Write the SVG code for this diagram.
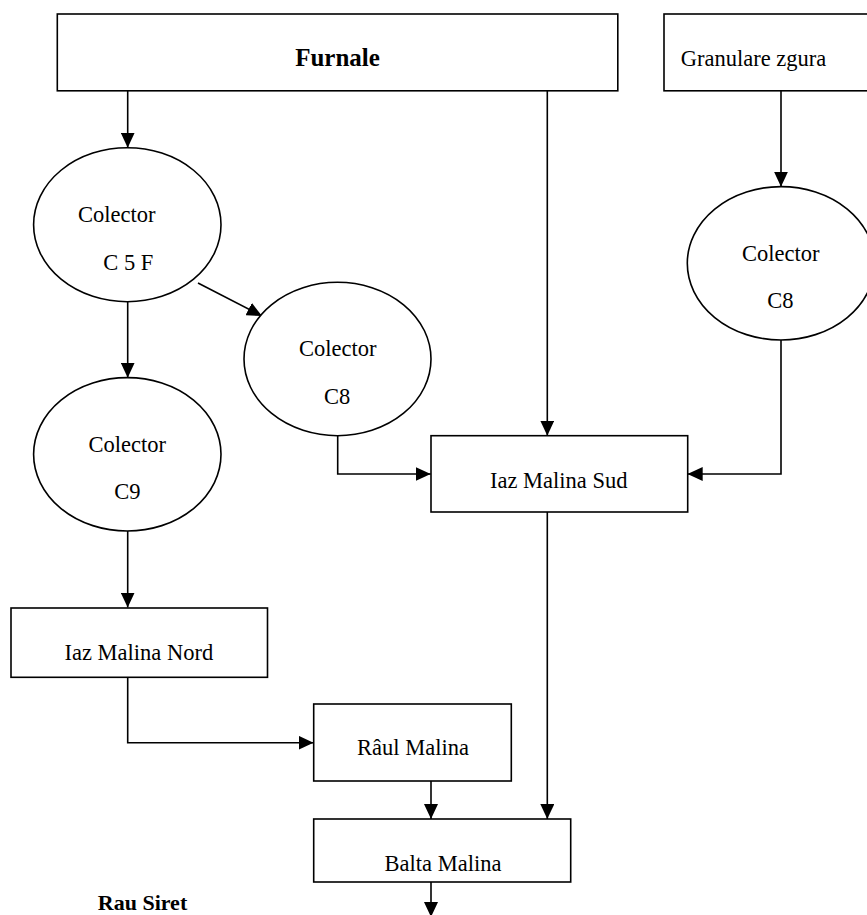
<svg xmlns="http://www.w3.org/2000/svg" width="867" height="915" viewBox="0 0 867 915">
<defs>
<marker id="arr" markerUnits="userSpaceOnUse" markerWidth="15" markerHeight="14" refX="15" refY="7" orient="auto">
<path d="M0,0 L15,7 L0,14 z" fill="#000"/>
</marker>
<style>
.box{fill:#fff;stroke:#000;stroke-width:1.6}
.ell{fill:#fff;stroke:#000;stroke-width:1.6}
.t{font-family:"Liberation Serif","Times New Roman",serif;font-size:22.5px;fill:#000}
.b{font-weight:bold}
.c{text-anchor:middle}
.ln{fill:none;stroke:#000;stroke-width:1.6}
.ar{marker-end:url(#arr)}
</style>
</defs>
<rect width="867" height="915" fill="#fff"/>
<g id="connectors">
<path class="ln ar" d="M127.7,91 V147.7"/>
<path class="ln ar" d="M547.3,91 V435.7"/>
<path class="ln ar" d="M781,91 V186.7"/>
<path class="ln ar" d="M198,283 L262,316"/>
<path class="ln ar" d="M127.7,301.7 V377.7"/>
<path class="ln ar" d="M337.7,435.7 V474 H430.7"/>
<path class="ln ar" d="M781,340 V474 H687.7"/>
<path class="ln ar" d="M127.7,531 V607.5"/>
<path class="ln ar" d="M127.7,677.3 V742.7 H313.5"/>
<path class="ln ar" d="M431,781 V819"/>
<path class="ln ar" d="M547.3,512 V819"/>
<path class="ln ar" d="M431,882 V917"/>
</g>
<g id="furnale">
<rect class="box" x="57.3" y="14" width="560.5" height="76.8"/>
<text class="t b c" x="337.5" y="66" style="font-size:25px">Furnale</text>
</g>
<g id="granulare">
<rect class="box" x="664" y="14" width="220" height="76.8"/>
<text class="t" x="680.7" y="66">Granulare zgura</text>
</g>
<g id="colector-c5f">
<ellipse class="ell" cx="127.3" cy="224.7" rx="93.7" ry="77"/>
<text class="t c" x="116.7" y="222">Colector</text>
<text class="t c" x="128.3" y="270">C 5 F</text>
</g>
<g id="colector-c8-mid">
<ellipse class="ell" cx="337.5" cy="359" rx="93.5" ry="76.7"/>
<text class="t c" x="337.8" y="356">Colector</text>
<text class="t c" x="337.2" y="404">C8</text>
</g>
<g id="colector-c8-right">
<ellipse class="ell" cx="781" cy="263.3" rx="93.7" ry="76.7"/>
<text class="t c" x="780.8" y="261">Colector</text>
<text class="t c" x="780.5" y="308.3">C8</text>
</g>
<g id="colector-c9">
<ellipse class="ell" cx="127.3" cy="454.3" rx="93.7" ry="76.7"/>
<text class="t c" x="127.3" y="452.3">Colector</text>
<text class="t c" x="127.3" y="499.3">C9</text>
</g>
<g id="iaz-sud">
<rect class="box" x="431" y="435.7" width="256.7" height="76.3"/>
<text class="t c" x="558.7" y="488.3">Iaz Malina Sud</text>
</g>
<g id="iaz-nord">
<rect class="box" x="11" y="608" width="256.5" height="69.3"/>
<text class="t c" x="138.8" y="660">Iaz Malina Nord</text>
</g>
<g id="raul-malina">
<rect class="box" x="313.7" y="704" width="197.6" height="77"/>
<text class="t c" x="413" y="755">Râul Malina</text>
</g>
<g id="balta-malina">
<rect class="box" x="313.7" y="819" width="257" height="63"/>
<text class="t c" x="443" y="870.7">Balta Malina</text>
</g>
<g id="rau-siret">
<text class="t b c" x="142.5" y="910" style="font-size:22px">Rau Siret</text>
</g>
</svg>
